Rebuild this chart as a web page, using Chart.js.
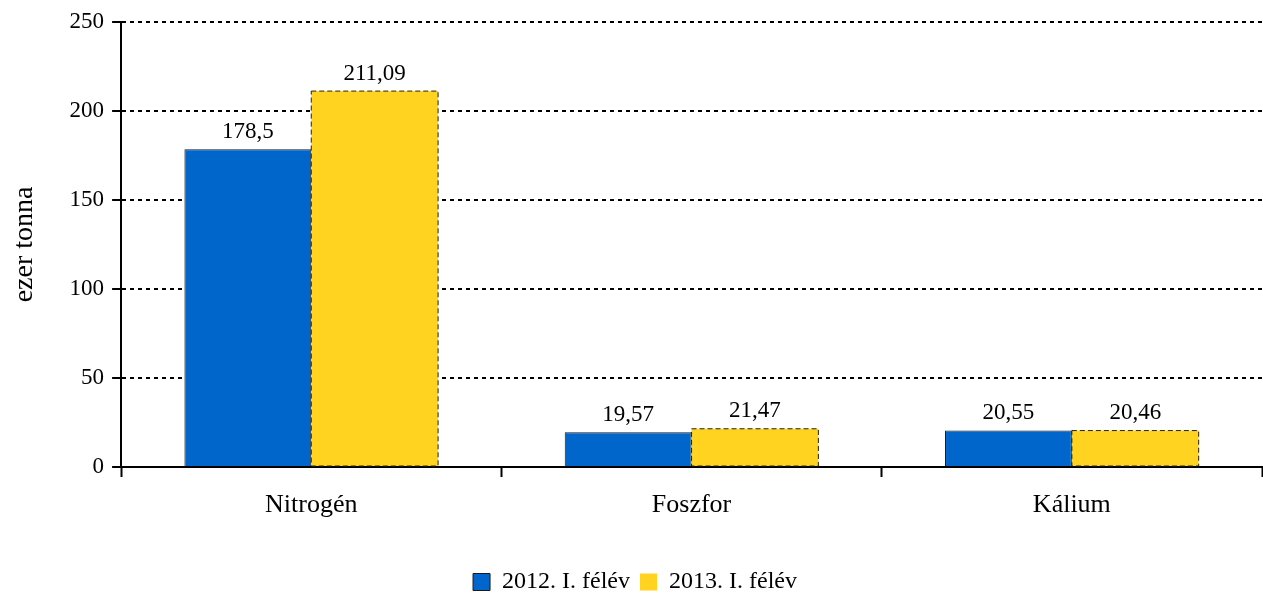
<!DOCTYPE html>
<html>
<head>
<meta charset="utf-8">
<script src="https://cdn.jsdelivr.net/npm/chart.js@4/dist/chart.umd.min.js"></script>
<style>
  html, body { margin: 0; padding: 0; background: #fff; }
  #wrap { width: 1263px; height: 595px; }
</style>
</head>
<body>
<div id="wrap"><canvas id="chart"></canvas></div>
<script>
// adatok
const categories = ['Nitrogén', 'Foszfor', 'Kálium'];
const series2012 = [178.5, 19.57, 20.55];
const series2013 = [211.09, 21.47, 20.46];
const seriesNames = ['2012. I. félév', '2013. I. félév'];
const yTicks = [0, 50, 100, 150, 200, 250];

const FONT = 'Liberation Serif';

// értékcímkék + szaggatott keret a sárga oszlopokon
const barExtras = {
  id: 'barExtras',
  afterDatasetsDraw(chart) {
    const ctx = chart.ctx;
    ctx.save();
    // szaggatott keret
    const meta1 = chart.getDatasetMeta(1);
    ctx.setLineDash([5, 3]);
    ctx.lineWidth = 1;
    ctx.strokeStyle = '#222';
    meta1.data.forEach(bar => {
      const w = bar.width;
      ctx.strokeRect(bar.x - w / 2, bar.y, w, bar.base - bar.y);
    });
    ctx.setLineDash([]);
    // címkék
    ctx.font = '23px "' + FONT + '"';
    ctx.fillStyle = '#000';
    ctx.textAlign = 'center';
    ctx.textBaseline = 'bottom';
    chart.data.datasets.forEach((ds, i) => {
      chart.getDatasetMeta(i).data.forEach((bar, j) => {
        const txt = String(ds.data[j]).replace('.', ',');
        ctx.fillText(txt, bar.x, bar.y - 6);
      });
    });
    ctx.restore();
  }
};

new Chart(document.getElementById('chart'), {
  type: 'bar',
  data: {
    labels: categories,
    datasets: [
      {
        label: seriesNames[0],
        data: series2012,
        backgroundColor: '#0066cc',
        borderColor: '#1a1a1a',
        borderWidth: 1
      },
      {
        label: seriesNames[1],
        data: series2013,
        backgroundColor: '#ffd320',
        borderColor: '#ffd320',
        borderWidth: 0
      }
    ]
  },
  options: {
    responsive: true,
    maintainAspectRatio: false,
    animation: false,
    layout: { padding: { left: 8, right: 1, top: 18, bottom: -9 } },
    datasets: {
      bar: { categoryPercentage: 0.667, barPercentage: 1.0 }
    },
    scales: {
      x: {
        afterFit(scale) { scale.height = 93; },
        grid: {
          offset: true,
          drawOnChartArea: false,
          drawTicks: true,
          tickLength: 10,
          tickWidth: 2,
          tickColor: '#000'
        },
        border: { color: '#000', width: 2 },
        ticks: {
          color: '#000',
          padding: 13,
          font: { family: FONT, size: 26 }
        }
      },
      y: {
        min: 0,
        max: 250,
        afterBuildTicks(axis) {
          axis.ticks = yTicks.map(v => ({ value: v }));
        },
        grid: {
          color: '#000',
          lineWidth: 2,
          drawTicks: true,
          tickLength: 9,
          tickColor: '#000',
          tickWidth: 2,
          tickBorderDash: []
        },
        border: { color: '#000', width: 2, dash: [4, 4] },
        ticks: {
          color: '#000',
          padding: 8,
          font: { family: FONT, size: 23 }
        },
        title: {
          display: true,
          text: 'ezer tonna',
          color: '#000',
          padding: { top: 0, bottom: 20 },
          font: { family: FONT, size: 28 }
        }
      }
    },
    plugins: {
      legend: {
        position: 'bottom',
        labels: {
          color: '#000',
          boxWidth: 17,
          boxHeight: 17,
          padding: 10,
          font: { family: FONT, size: 24 }
        }
      },
      tooltip: { enabled: false }
    }
  },
  plugins: [barExtras]
});
</script>
</body>
</html>
